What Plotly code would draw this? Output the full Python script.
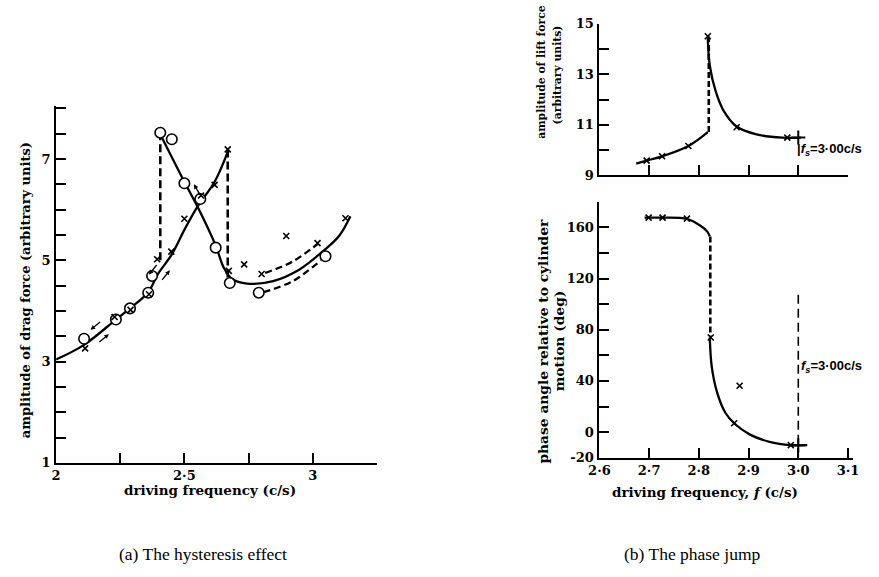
import plotly.graph_objects as go

W, H = 879, 577

# ---------------- (a) hysteresis effect ----------------
a_circ_x = [2.109, 2.233, 2.288, 2.359, 2.374, 2.406, 2.451, 2.500, 2.562, 2.622, 2.677, 2.790, 3.050]
a_circ_y = [3.45, 3.83, 4.05, 4.36, 4.69, 7.52, 7.39, 6.52, 6.21, 5.25, 4.55, 4.36, 5.08]
a_cross_x = [2.113, 2.228, 2.290, 2.362, 2.394, 2.449, 2.500, 2.565, 2.618, 2.669, 2.673, 2.733, 2.801, 2.897, 3.019, 3.128]
a_cross_y = [3.26, 3.88, 4.02, 4.33, 5.02, 5.17, 5.82, 6.28, 6.49, 7.19, 4.79, 4.92, 4.73, 5.48, 5.34, 5.83]

a_rise_x = [2.00, 2.109, 2.231, 2.288, 2.359, 2.397, 2.449, 2.500, 2.551, 2.618, 2.669]
a_rise_y = [3.04, 3.33, 3.82, 4.05, 4.37, 4.73, 5.10, 5.60, 6.06, 6.55, 7.14]
a_fall_x = [2.404, 2.500, 2.551, 2.622, 2.654, 2.686, 2.744, 2.846, 2.949, 3.038, 3.103, 3.147]
a_fall_y = [7.51, 6.55, 6.06, 5.29, 4.85, 4.63, 4.54, 4.59, 4.82, 5.17, 5.48, 5.87]
a_dash_up_x = [2.815, 2.920, 3.019]
a_dash_up_y = [4.75, 4.97, 5.32]
a_dash_lo_x = [2.808, 2.923, 3.032]
a_dash_lo_y = [4.37, 4.59, 5.00]
a_jump1_x = [2.406, 2.406]
a_jump1_y = [5.00, 7.52]
a_jump2_x = [2.669, 2.669]
a_jump2_y = [7.19, 4.62]
# direction arrows drawn beside the curves (head position on the curve)
a_arrow_x = [2.150, 2.190, 2.385, 2.420, 2.510]
a_arrow_y = [3.49, 3.66, 4.62, 4.90, 6.50]

a_xticks = [2, 2.25, 2.5, 2.75, 3, 3.25]
a_xlabels = ["2", "", "2·5", "", "3", ""]
a_yticks = [1 + 0.5 * i for i in range(15)]
a_ylabels = ["1", "", "", "", "3", "", "", "", "5", "", "", "", "7", "", ""]

# ---------------- (b) top: lift amplitude ----------------
b1_cross_x = [2.695, 2.726, 2.779, 2.818, 2.876, 2.978]
b1_cross_y = [9.58, 9.75, 10.16, 14.51, 10.90, 10.49]
b1_plus_x = [3.0]
b1_plus_y = [10.49]
b1_rise_x = [2.674, 2.695, 2.726, 2.779, 2.818]
b1_rise_y = [9.46, 9.58, 9.75, 10.16, 10.71]
b1_jump_x = [2.820, 2.820]
b1_jump_y = [10.71, 14.50]
b1_fall_x = [2.818, 2.822, 2.834, 2.850, 2.876, 2.916, 2.968, 3.005]
b1_fall_y = [14.44, 13.35, 12.32, 11.55, 10.93, 10.62, 10.49, 10.49]
b1_yticks = [9, 10, 11, 12, 13, 14, 15]
b1_ylabels = ["9", "", "11", "", "13", "", "15"]

# ---------------- (b) bottom: phase angle ----------------
b2_cross_x = [2.699, 2.727, 2.776, 2.824, 2.882, 2.871, 2.985]
b2_cross_y = [167.6, 167.6, 166.9, 73.9, 36.2, 6.9, -10.2]
b2_plus_x = [3.0]
b2_plus_y = [-10.2]
b2_top_x = [2.691, 2.727, 2.776, 2.801, 2.817, 2.822]
b2_top_y = [167.6, 167.6, 166.6, 161.8, 156.7, 152.9]
b2_jump_x = [2.823, 2.823]
b2_jump_y = [152.9, 74.0]
b2_fall_x = [2.822, 2.826, 2.837, 2.853, 2.871, 2.903, 2.942, 2.985, 3.018]
b2_fall_y = [73.9, 51.0, 30.6, 15.3, 6.9, -2.0, -7.6, -10.2, -10.2]
b2_fs_x = [3.0, 3.0]
b2_fs_y = [-20, 110]
b_xticks = [2.6, 2.7, 2.8, 2.9, 3.0, 3.1]
b_xlabels = ["2·6", "2·7", "2·8", "2·9", "3·0", "3·1"]
b2_yticks = [-20 + 20 * i for i in range(11)]
b2_ylabels = ["-20", "0", "", "40", "", "80", "", "120", "", "160", ""]

FONT = "DejaVu Serif"
LW = 2.3

fig = go.Figure()

def line(x, y, ax, dash="solid", shape="spline", width=LW):
    fig.add_trace(go.Scatter(x=x, y=y, mode="lines", xaxis=ax[0], yaxis=ax[1],
                             line=dict(color="black", width=width, dash=dash, shape=shape,
                                       smoothing=1.0),
                             hoverinfo="skip", showlegend=False))

def marks(x, y, ax, symbol, size, width=1.6):
    fig.add_trace(go.Scatter(x=x, y=y, mode="markers", xaxis=ax[0], yaxis=ax[1],
                             marker=dict(symbol=symbol, size=size, color="black",
                                         line=dict(color="black", width=width)),
                             showlegend=False))

A = ("x", "y")
B1 = ("x2", "y2")
B2 = ("x3", "y3")

line(a_rise_x, a_rise_y, A)
line(a_fall_x, a_fall_y, A)
line(a_dash_up_x, a_dash_up_y, A, dash="7px,4px")
line(a_dash_lo_x, a_dash_lo_y, A, dash="7px,4px")
line(a_jump1_x, a_jump1_y, A, dash="8px,4px", shape="linear", width=2.6)
line(a_jump2_x, a_jump2_y, A, dash="8px,4px", shape="linear", width=2.6)
fig.add_trace(go.Scatter(x=a_circ_x, y=a_circ_y, mode="markers", xaxis="x", yaxis="y",
                         marker=dict(symbol="circle", size=10.5, color="white",
                                     line=dict(color="black", width=1.6)),
                         showlegend=False))
marks(a_cross_x, a_cross_y, A, "x-thin", 6)

line(b1_rise_x, b1_rise_y, B1)
line(b1_jump_x, b1_jump_y, B1, dash="6px,3px", shape="linear", width=2.6)
line(b1_fall_x, b1_fall_y, B1)
marks(b1_cross_x, b1_cross_y, B1, "x-thin", 6)
marks(b1_plus_x, b1_plus_y, B1, "cross-thin", 10, 2)

line(b2_top_x, b2_top_y, B2)
line(b2_jump_x, b2_jump_y, B2, dash="6px,3px", shape="linear", width=2.6)
line(b2_fall_x, b2_fall_y, B2)
line(b2_fs_x, b2_fs_y, B2, dash="9px,5px", shape="linear", width=1.6)
marks(b2_cross_x, b2_cross_y, B2, "x-thin", 6)
marks(b2_plus_x, b2_plus_y, B2, "cross-thin", 10, 2)

tickfont = dict(family=FONT, size=13, color="black", weight="bold")
common = dict(showgrid=False, zeroline=False, showline=True, linecolor="black", linewidth=2,
              ticks="inside", tickcolor="black", tickwidth=1.5, ticklen=10,
              tickfont=tickfont, tickmode="array", fixedrange=True)

def px_x(p):
    return p / W

def px_y(p):
    return 1 - p / H

fig.update_layout(
    width=W, height=H, margin=dict(l=0, r=0, t=0, b=0),
    paper_bgcolor="white", plot_bgcolor="white",
    xaxis=dict(domain=[px_x(46), px_x(373)], range=[2, 3.25], anchor="y",
               tickvals=a_xticks, ticktext=a_xlabels, **common),
    yaxis=dict(domain=[px_y(468), px_y(102)], range=[1, 8.04], anchor="x",
               tickvals=a_yticks, ticktext=a_ylabels, **common),
    xaxis2=dict(domain=[px_x(600), px_x(853.5)], range=[2.6, 3.1], anchor="y2",
                tickvals=b_xticks[1:], ticktext=["", "", "", "", ""], **common),
    yaxis2=dict(domain=[px_y(172.7), px_y(17.3)], range=[9, 15], anchor="x2",
                tickvals=b1_yticks, ticktext=b1_ylabels, **common),
    xaxis3=dict(domain=[px_x(600), px_x(858.6)], range=[2.6, 3.11], anchor="y3",
                tickvals=b_xticks, ticktext=b_xlabels, **common),
    yaxis3=dict(domain=[px_y(462.7), px_y(200)], range=[-20, 180], anchor="x3",
                tickvals=b2_yticks, ticktext=b2_ylabels, **common),
)
fig.update_xaxes(ticklabelstandoff=0)
fig.update_yaxes(ticklabelstandoff=1)

ann = []
def text(t, x, y, angle=0, size=12, xanchor="center", bold=True, family=FONT):
    ann.append(dict(text=(f"<b>{t}</b>" if bold else t), x=px_x(x), y=px_y(y), xref="paper", yref="paper",
                    showarrow=False, textangle=angle, xanchor=xanchor, yanchor="middle",
                    font=dict(family=family, size=size, color="black")))

text("amplitude of drag force (arbitrary units)", 15, 291, angle=-90, size=13)
text("driving frequency (c/s)", 203, 496, size=13.5)
text("amplitude of lift force", 541, 67, angle=-90, size=10.8)
text("(arbitrary units)", 557, 70, angle=-90, size=10.8)
text("phase angle relative to cylinder", 543, 343, angle=-90, size=13.8)
text("motion (deg)", 559, 343, angle=-90, size=13.8)
text("driving frequency, <i>f</i> (c/s)", 708, 498, size=13.5)
ann.append(dict(text="<b>|<i>f<sub>s</sub></i>=3·00c/s</b>", x=3.0, y=10.0, xref="x2", yref="y2",
                showarrow=False, xanchor="left", yanchor="middle", xshift=-3,
                font=dict(family="Liberation Sans", size=13, color="black")))
ann.append(dict(text="<b><i>f<sub>s</sub></i>=3·00c/s</b>", x=3.0, y=51, xref="x3", yref="y3",
                showarrow=False, xanchor="left", yanchor="middle", xshift=1,
                font=dict(family="Liberation Sans", size=13, color="black")))
text("(a) The hysteresis effect", 196, 562, size=17.5, bold=False, family="Liberation Serif")
text("(b) The phase jump", 694, 562, size=17.5, bold=False, family="Liberation Serif")

# small direction arrows beside the curves of panel (a)
arrow_tail = [(11, -9, -4, -7), (-11, 9, 4, 6), (9, -11, -6, -5), (-9, 11, 6, 5), (7, 12, 7, 0)]
for xa, ya, (tx, ty, sx, sy) in zip(a_arrow_x, a_arrow_y, arrow_tail):
    ann.append(dict(x=xa, y=ya, xref="x", yref="y", ax=tx, ay=ty, axref="pixel", ayref="pixel",
                    showarrow=True, arrowhead=2, arrowsize=0.7, arrowwidth=1.3, arrowcolor="black",
                    xshift=sx, yshift=-sy, text=""))
fig.update_layout(annotations=ann)

fig.write_html("out.html")
